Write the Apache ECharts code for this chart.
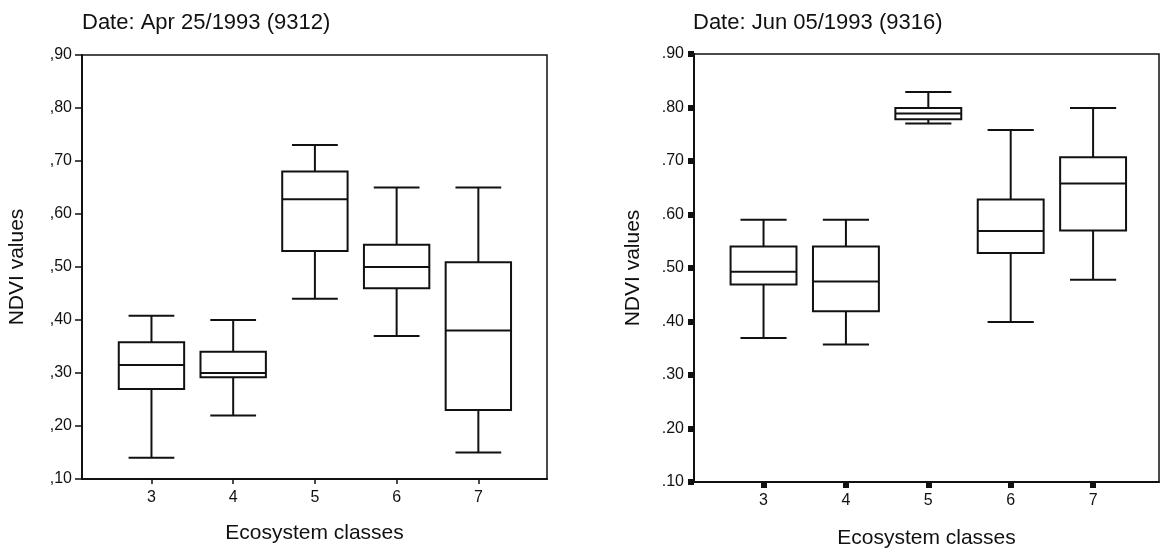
<!DOCTYPE html>
<html>
<head>
<meta charset="utf-8">
<script src="https://cdn.jsdelivr.net/npm/echarts@6/dist/echarts.min.js"></script>
<style>
  html, body { margin: 0; padding: 0; background: #fff; }
  #chart { width: 1168px; height: 554px; }
</style>
</head>
<body>
<div id="chart"></div>
<script>
  // ecosystem classes on the x axis
  const classes = [3, 4, 5, 6, 7];
  const yTicks = [0.1, 0.2, 0.3, 0.4, 0.5, 0.6, 0.7, 0.8, 0.9];

  // Apr 25/1993 (9312)
  const aprMin = [0.14, 0.22, 0.44, 0.37, 0.15];
  const aprQ1  = [0.27, 0.292, 0.53, 0.46, 0.23];
  const aprMed = [0.315, 0.30, 0.628, 0.50, 0.38];
  const aprQ3  = [0.358, 0.34, 0.68, 0.542, 0.509];
  const aprMax = [0.408, 0.40, 0.73, 0.65, 0.65];

  // Jun 05/1993 (9316)
  const junMin = [0.369, 0.357, 0.770, 0.399, 0.478];
  const junQ1  = [0.469, 0.419, 0.778, 0.528, 0.570];
  const junMed = [0.493, 0.475, 0.789, 0.569, 0.658];
  const junQ3  = [0.540, 0.540, 0.799, 0.628, 0.707];
  const junMax = [0.590, 0.590, 0.829, 0.758, 0.799];

  const BOX_W = 0.8;
  const CAP_W = 0.56;
  const INK = '#111';
  const FONT = 'Liberation Sans, Arial, sans-serif';

  function rows(mn, q1, md, q3, mx) {
    return classes.map((c, i) => [c, mn[i], q1[i], md[i], q3[i], mx[i]]);
  }

  function renderBox(params, api) {
    const x = api.value(0);
    const lo = api.coord([x, api.value(1)]);
    const q1 = api.coord([x, api.value(2)]);
    const md = api.coord([x, api.value(3)]);
    const q3 = api.coord([x, api.value(4)]);
    const hi = api.coord([x, api.value(5)]);
    const hb = api.size([BOX_W, 0])[0] / 2;
    const hc = api.size([CAP_W, 0])[0] / 2;
    const cx = lo[0];
    const st = { stroke: INK, lineWidth: 2, fill: 'none' };
    const line = (x1, y1, x2, y2) => ({ type: 'line', shape: { x1, y1, x2, y2 }, style: st });
    return {
      type: 'group',
      children: [
        line(cx, hi[1], cx, q3[1]),
        line(cx - hc, hi[1], cx + hc, hi[1]),
        line(cx, q1[1], cx, lo[1]),
        line(cx - hc, lo[1], cx + hc, lo[1]),
        { type: 'rect', shape: { x: cx - hb, y: q3[1], width: hb * 2, height: q1[1] - q3[1] }, style: st },
        line(cx - hb, md[1], cx + hb, md[1])
      ]
    };
  }

  function fmt(sep) {
    return v => sep + String(Math.round(v * 100)).padStart(2, '0');
  }

  const squareTicks = { show: true, length: 6, lineStyle: { color: INK, width: 6 } };
  const thinTicksY = { show: true, length: 7, lineStyle: { color: INK, width: 1.5 } };
  const thinTicksX = { show: true, length: 5, lineStyle: { color: INK, width: 1.5 } };

  function xAxis(gridIndex, min, max, ticks, gap) {
    return {
      type: 'value', gridIndex, min, max,
      name: 'Ecosystem classes', nameLocation: 'middle', nameGap: gap,
      nameTextStyle: { fontSize: 21, color: INK, fontFamily: FONT },
      axisLine: { show: true, onZero: false, lineStyle: { color: INK, width: 2 } },
      axisTick: Object.assign({ customValues: classes }, ticks),
      axisLabel: { customValues: classes, fontSize: 16, color: INK, fontFamily: FONT, margin: 11 },
      splitLine: { show: false }
    };
  }

  function yAxis(gridIndex, sep, ticks, gap) {
    return {
      type: 'value', gridIndex, min: 0.1, max: 0.9, interval: 0.1,
      name: 'NDVI values', nameLocation: 'middle', nameGap: gap,
      nameTextStyle: { fontSize: 21, color: INK, fontFamily: FONT },
      axisLine: { show: true, onZero: false, lineStyle: { color: INK, width: 2 } },
      axisTick: Object.assign({ customValues: yTicks }, ticks),
      axisLabel: { customValues: yTicks, formatter: fmt(sep), fontSize: 16, color: INK, fontFamily: FONT, margin: 10 },
      splitLine: { show: false }
    };
  }

  const myChart = echarts.init(document.getElementById('chart'));
  let option = {
    backgroundColor: '#fff',
    animation: false,
    title: [
      { text: 'Date: Apr 25/1993 (9312)', left: 77, top: 7,
        textStyle: { fontSize: 22, fontWeight: 'normal', color: INK, fontFamily: FONT } },
      { text: 'Date: Jun 05/1993 (9316)', left: 688, top: 7,
        textStyle: { fontSize: 22, fontWeight: 'normal', color: INK, fontFamily: FONT } }
    ],
    grid: [
      { left: 82, right: 621, top: 55, bottom: 75, show: true, borderColor: INK, borderWidth: 1.5 },
      { left: 694, right: 9, top: 54, bottom: 71, show: true, borderColor: INK, borderWidth: 1.5 }
    ],
    xAxis: [
      xAxis(0, 2.15, 7.84, thinTicksX, 44),
      xAxis(1, 2.156, 7.8, squareTicks, 46)
    ],
    yAxis: [
      yAxis(0, ',', thinTicksY, 54),
      yAxis(1, '.', squareTicks, 50)
    ],
    series: [
      { type: 'custom', xAxisIndex: 0, yAxisIndex: 0, renderItem: renderBox,
        encode: { x: 0, y: [1, 2, 3, 4, 5] }, data: rows(aprMin, aprQ1, aprMed, aprQ3, aprMax) },
      { type: 'custom', xAxisIndex: 1, yAxisIndex: 1, renderItem: renderBox,
        encode: { x: 0, y: [1, 2, 3, 4, 5] }, data: rows(junMin, junQ1, junMed, junQ3, junMax) }
    ]
  };
  myChart.setOption(option);
</script>
</body>
</html>
